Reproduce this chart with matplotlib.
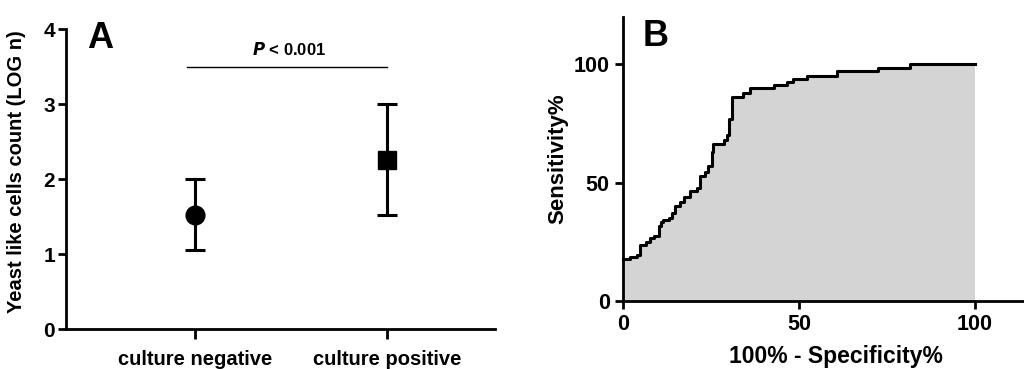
import numpy as np
import matplotlib
matplotlib.use('Agg')
import matplotlib.pyplot as plt

plt.rcParams['font.family'] = ['Liberation Sans', 'DejaVu Sans']
plt.rcParams['font.weight'] = 'bold'

# panel A: mean with range per group
groups = ['culture negative', 'culture positive']
centers = [1.52, 2.26]
low = [1.05, 1.52]
high = [2.0, 3.0]
markers = ['o', 's']

# panel B: ROC curve steps (100% - specificity, sensitivity)
fpr = [0, 2.1, 4.0, 4.7, 6.6, 7.8, 8.7, 10.1, 10.8, 11.5, 13.0, 13.9, 14.9, 16.1,
       17.2, 19.1, 21.0, 21.8, 23.4, 24.3, 25.3, 25.7, 28.6, 29.5, 30.0, 31.0,
       34.2, 36.0, 43.0, 46.5, 48.4, 52.2, 60.7, 72.6, 81.5, 100]
tpr = [17.7, 18.5, 19.5, 23.7, 24.9, 26.6, 27.5, 31.5, 33.3, 34.3, 35.0, 37.0, 40.0, 42.0,
       44.0, 46.3, 47.7, 52.7, 54.4, 57.0, 63.0, 66.5, 68.0, 70.0, 77.0, 86.0,
       88.0, 90.2, 91.2, 92.5, 93.6, 95.0, 97.0, 98.6, 100, 100]

fig = plt.figure(figsize=(10.24, 3.69), dpi=100)

axA = fig.add_axes([0.0645, 0.1084, 0.4185, 0.8126])
for i in range(2):
    axA.errorbar(i, centers[i], yerr=[[centers[i] - low[i]], [high[i] - centers[i]]],
                 fmt=markers[i], color='black', ms=13.5, elinewidth=2.2, capsize=7,
                 capthick=2.2, clip_on=False)
axA.set_xlim(-0.672, 1.5625)
axA.set_ylim(0, 4)
axA.set_yticks([0, 1, 2, 3, 4])
axA.set_xticks([0, 1])
axA.set_xticklabels(groups, fontsize=14.5, fontweight='bold')
axA.tick_params(axis='y', labelsize=15, width=2, length=6, pad=2)
axA.tick_params(axis='x', width=2, length=7, pad=8)
axA.spines[['top', 'right']].set_visible(False)
axA.spines[['left', 'bottom']].set_linewidth(2)
axA.set_ylabel('Yeast like cells count (LOG n)', fontsize=14.5, fontweight='bold')
axA.yaxis.set_label_coords(-0.093, 0.525)
axA.plot([-0.04, 1.0], [3.5, 3.5], color='black', lw=1)
axA.text(0.49, 3.73, r'$\mathbf{\it{P}}$ < 0.001', ha='center', va='center', fontsize=12,
         fontweight='bold')
axA.text(0.048, 0.97, 'A', transform=axA.transAxes, fontsize=26, fontweight='bold',
         va='center', ha='left')

axB = fig.add_axes([0.6084, 0.1843, 0.3916, 0.7697])
axB.fill_between(fpr, tpr, step='post', color='#d4d4d4', lw=0)
axB.step(fpr, tpr, where='post', color='black', lw=2.2, clip_on=False)
axB.set_xlim(0, 114)
axB.set_ylim(0, 120)
axB.set_xticks([0, 50, 100])
axB.set_yticks([0, 50, 100])
axB.tick_params(labelsize=15.5, width=2, length=6)
axB.spines[['top', 'right']].set_visible(False)
axB.spines[['left', 'bottom']].set_linewidth(2)
axB.set_ylabel('Sensitivity%', fontsize=16, fontweight='bold', labelpad=4)
axB.set_xlabel('100% - Specificity%', fontsize=16.5, fontweight='bold')
axB.xaxis.set_label_coords(0.53, -0.155)
axB.text(0.05, 0.93, 'B', transform=axB.transAxes, fontsize=26, fontweight='bold',
         va='center', ha='left')

fig.savefig('out.png', dpi=100)
